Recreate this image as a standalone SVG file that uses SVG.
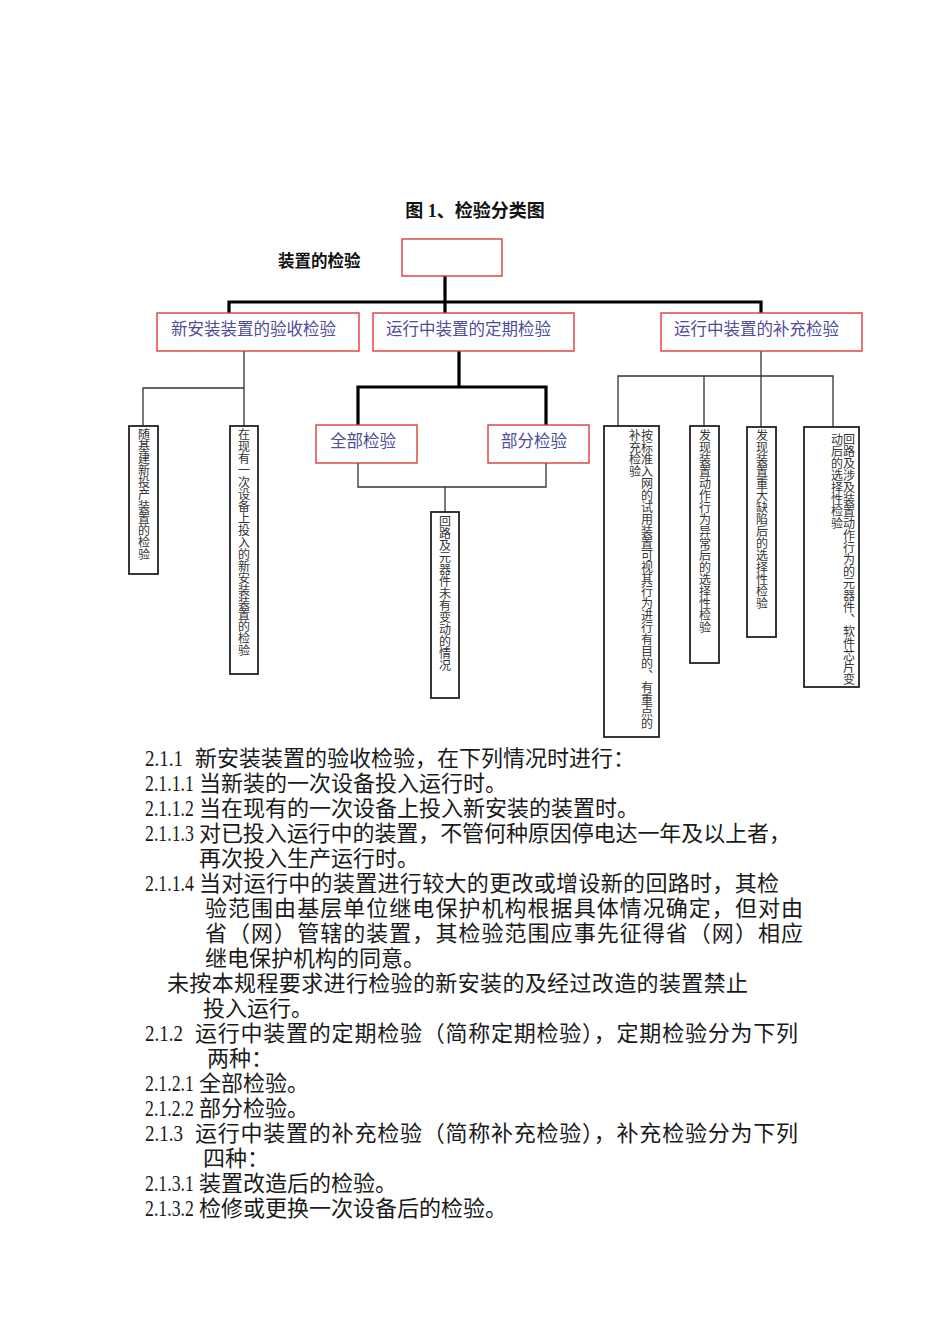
<svg xmlns="http://www.w3.org/2000/svg" width="950" height="1344" viewBox="0 0 950 1344">
<style>
.bg{fill:#fff}
.red{fill:#fff;stroke:#e03a3a;stroke-width:1.4}
.vbox{fill:#fff;stroke:#222;stroke-width:1.8}
.thick{fill:none;stroke:#000;stroke-width:3.2;stroke-linecap:square}
.thin{fill:none;stroke:#333;stroke-width:1.3}
.title{font-family:"Liberation Serif","Noto Sans CJK SC",serif;font-weight:bold;font-size:18px;fill:#111}
.lbl{font-family:"Liberation Serif","Noto Sans CJK SC",serif;font-weight:bold;font-size:16.5px;fill:#111}
.l2{font-family:"Liberation Serif","Noto Sans CJK SC",sans-serif;font-size:16.5px;fill:#4d4d96}
.vt{font-family:"Noto Sans CJK SC",sans-serif;font-size:12px;fill:#333;writing-mode:vertical-rl}
.body{font-family:"Liberation Serif","Noto Sans CJK SC",serif;font-size:22px;fill:#1a1a1a}
.num{font-family:"Liberation Serif",serif;font-size:24px;fill:#1a1a1a}
</style>
<rect class="bg" x="0" y="0" width="950" height="1344"/>
<text class="title" x="475" y="217" text-anchor="middle">图 1、检验分类图</text>
<text class="lbl" x="278" y="267">装置的检验</text>

<g id="connectors">
  <path class="thick" d="M445,276 V313 M229,313 V302 H761 V313"/>
  <path class="thick" d="M459,351 V387 M358,425 V387 H546 V425"/>
  <path class="thin" d="M244,351 V426 M143,426 V388 H244"/>
  <path class="thin" d="M358,463 V487 H546 V463 M445,487 V512"/>
  <path class="thin" d="M761,351 V427 M618,426 V376 H833 V427 M704,376 V426"/>
</g>

<g id="root"><rect class="red" x="402" y="239" width="100" height="37"/></g>

<g id="new-install"><rect class="red" x="157" y="313" width="202" height="38"/><text class="l2" x="171" y="335">新安装装置的验收检验</text></g>
<g id="periodic"><rect class="red" x="373" y="313" width="201" height="38"/><text class="l2" x="386" y="335">运行中装置的定期检验</text></g>
<g id="supplement"><rect class="red" x="661" y="313" width="201" height="38"/><text class="l2" x="674" y="335">运行中装置的补充检验</text></g>

<g id="a1"><rect class="vbox" x="129" y="426" width="29" height="148"/><text class="vt" x="144" y="428">随基建新投产装置的检验</text></g>
<g id="a2"><rect class="vbox" x="230" y="426" width="28" height="248"/><text class="vt" x="244" y="428">在现有一次设备上投入的新安装装置的检验</text></g>

<g id="full"><rect class="red" x="316" y="425" width="101" height="38"/><text class="l2" x="330" y="447">全部检验</text></g>
<g id="partial"><rect class="red" x="488" y="425" width="101" height="38"/><text class="l2" x="501" y="447">部分检验</text></g>
<g id="b3"><rect class="vbox" x="431" y="512" width="28" height="186"/><text class="vt" x="445" y="515">回路及元器件未有变动的情况</text></g>

<g id="c1"><rect class="vbox" x="604" y="426" width="55" height="311"/><text class="vt" x="647" y="429">按标准入网的试用装置可视其行为进行有目的、有重点的</text><text class="vt" x="635" y="429">补充检验</text></g>
<g id="c2"><rect class="vbox" x="690" y="426" width="29" height="237"/><text class="vt" x="705" y="429">发现装置动作行为异常后的选择性检验</text></g>
<g id="c3"><rect class="vbox" x="747" y="427" width="29" height="210"/><text class="vt" x="762" y="429">发现装置重大缺陷后的选择性检验</text></g>
<g id="c4"><rect class="vbox" x="804" y="427" width="55" height="260"/><text class="vt" x="849" y="433">回路及涉及装置动作行为的元器件、软件芯片变</text><text class="vt" x="837" y="433">动后的选择性检验</text></g>

<g id="body">
<text class="num" transform="translate(145,766) scale(0.79,1)">2.1.1</text>
<text class="body" x="195" y="766">新安装装置的验收检验，在下列情况时进行：</text>
<text class="num" transform="translate(145,791) scale(0.74,1)">2.1.1.1</text>
<text class="body" x="199" y="791">当新装的一次设备投入运行时。</text>
<text class="num" transform="translate(145,816) scale(0.74,1)">2.1.1.2</text>
<text class="body" x="199" y="816">当在现有的一次设备上投入新安装的装置时。</text>
<text class="num" transform="translate(145,841) scale(0.74,1)">2.1.1.3</text>
<text class="body" x="199" y="841" textLength="592" lengthAdjust="spacing">对已投入运行中的装置，不管何种原因停电达一年及以上者，</text>
<text class="body" x="199" y="866">再次投入生产运行时。</text>
<text class="num" transform="translate(145,891) scale(0.74,1)">2.1.1.4</text>
<text class="body" x="199" y="891" textLength="580" lengthAdjust="spacing">当对运行中的装置进行较大的更改或增设新的回路时，其检</text>
<text class="body" x="205" y="916" textLength="598" lengthAdjust="spacing">验范围由基层单位继电保护机构根据具体情况确定，但对由</text>
<text class="body" x="205" y="941" textLength="598" lengthAdjust="spacing">省（网）管辖的装置，其检验范围应事先征得省（网）相应</text>
<text class="body" x="205" y="966">继电保护机构的同意。</text>
<text class="body" x="167" y="991" textLength="581" lengthAdjust="spacing">未按本规程要求进行检验的新安装的及经过改造的装置禁止</text>
<text class="body" x="203" y="1016">投入运行。</text>
<text class="num" transform="translate(145,1041) scale(0.79,1)">2.1.2</text>
<text class="body" x="195" y="1041" textLength="603" lengthAdjust="spacing">运行中装置的定期检验（简称定期检验），定期检验分为下列</text>
<text class="body" x="207" y="1066">两种：</text>
<text class="num" transform="translate(145,1091) scale(0.74,1)">2.1.2.1</text>
<text class="body" x="199" y="1091">全部检验。</text>
<text class="num" transform="translate(145,1116) scale(0.74,1)">2.1.2.2</text>
<text class="body" x="199" y="1116">部分检验。</text>
<text class="num" transform="translate(145,1141) scale(0.79,1)">2.1.3</text>
<text class="body" x="195" y="1141" textLength="603" lengthAdjust="spacing">运行中装置的补充检验（简称补充检验），补充检验分为下列</text>
<text class="body" x="203" y="1166">四种：</text>
<text class="num" transform="translate(145,1191) scale(0.74,1)">2.1.3.1</text>
<text class="body" x="199" y="1191">装置改造后的检验。</text>
<text class="num" transform="translate(145,1216) scale(0.74,1)">2.1.3.2</text>
<text class="body" x="199" y="1216">检修或更换一次设备后的检验。</text>
</g>
</svg>
